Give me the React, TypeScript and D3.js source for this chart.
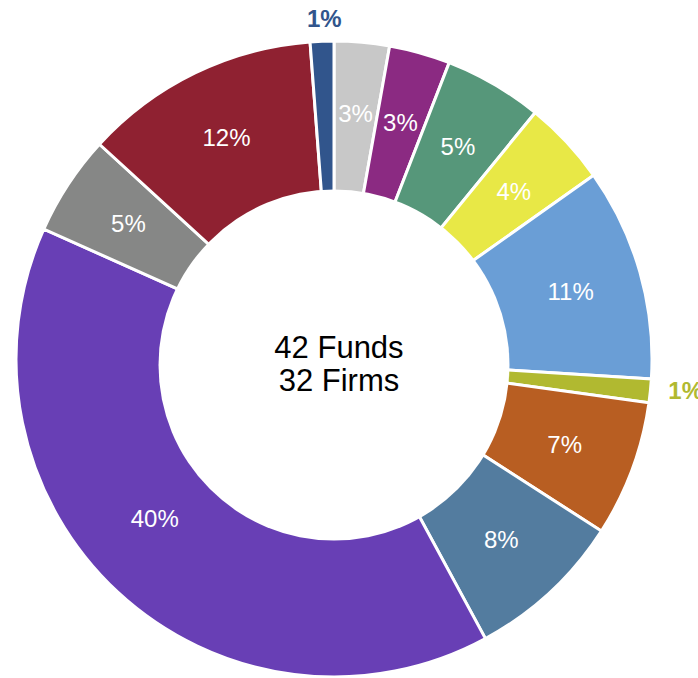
import React from "react";
import * as d3 from "d3";

const categories = ["A", "B", "C", "D", "E", "F", "G", "H", "I", "J", "K", "L"];
const values = [2.8, 3.1, 5.0, 4.3, 10.8, 1.2, 6.9, 8.0, 39.6, 5.1, 12.0, 1.2];
const colors = [
  "#c8c8c8", "#8b2a82", "#56977a", "#e8e846", "#6a9ed6", "#b1b930",
  "#b85e22", "#537c9f", "#683fb5", "#868786", "#8f2131", "#31558c",
];
const centerLines = ["42 Funds", "32 Firms"];

const W = 698;
const H = 678;
const cx = 334;
const cy = 359;
const R = 318;
const holeCx = 334;
const holeCy = 365;
const holeR = 175.5;
const labelR = 246;
const outsideR = 339;
const FONT = "'Liberation Sans', Arial, Helvetica, sans-serif";

export default function App() {
  const data = categories.map((c, i) => ({ c, v: values[i], color: colors[i] }));
  const pie = d3.pie<any>().value((d) => d.v).sort(null);
  const arcs = pie(data);
  const arc = d3.arc<any>().innerRadius(150).outerRadius(R);

  return (
    <svg width={W} height={H} style={{ position: "absolute", left: 0, top: 0 }}>
      <g transform={`translate(${cx},${cy})`}>
        {arcs.map((a, i) => (
          <path key={i} d={arc(a) as string} fill={a.data.color} stroke="#fff" strokeWidth={3} />
        ))}
      </g>
      <circle cx={holeCx} cy={holeCy} r={holeR} fill="#fff" />
      <g transform={`translate(${cx},${cy})`}>
        {arcs.map((a, i) => {
          const pct = Math.round(a.data.v);
          let mid = (a.startAngle + a.endAngle) / 2;
          const small = a.data.v < 2;
          if (small) {
            const x = outsideR * Math.sin(mid);
            const y = -outsideR * Math.cos(mid);
            const anchor = Math.abs(Math.sin(mid)) > 0.5 ? (Math.sin(mid) > 0 ? "start" : "end") : "middle";
            return (
              <text key={i} x={anchor === "start" ? x - 3 : x + 3} y={anchor === "start" ? y - 2 : y - 2} dy="0.35em"
                textAnchor={anchor} fill={a.data.color}
                fontFamily={FONT} fontSize={24} fontWeight="bold">{pct}%</text>
            );
          }
          if (a.data.v > 30) mid += (5.5 * Math.PI) / 180;
          const r = a.data.v > 30 ? 240 : labelR;
          const x = r * Math.sin(mid);
          const y = -r * Math.cos(mid);
          return (
            <text key={i} x={x} y={y} dy="0.35em" textAnchor="middle" fill="#fff"
              fontFamily={FONT} fontSize={24}>{pct}%</text>
          );
        })}
      </g>
      {centerLines.map((t, i) => (
        <text key={t} x={holeCx + 5} y={347 + i * 33} dy="0.35em" textAnchor="middle" fill="#000"
          fontFamily={FONT} fontSize={31}>{t}</text>
      ))}
    </svg>
  );
}
